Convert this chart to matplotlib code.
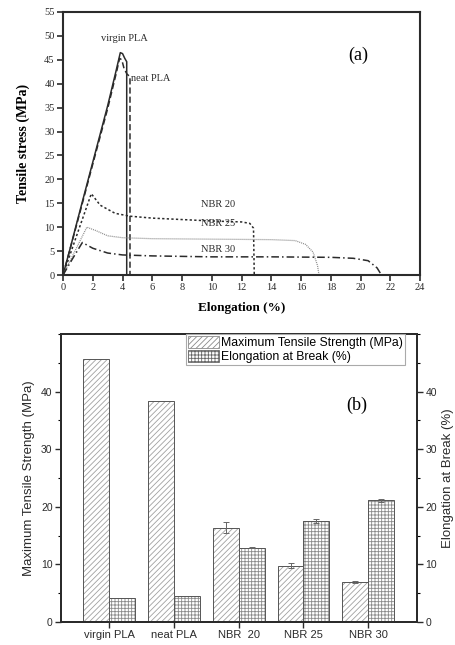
import matplotlib

matplotlib.use("Agg")

import matplotlib.pyplot as plt
import numpy as np
from matplotlib.patches import Patch
from matplotlib.ticker import MultipleLocator

# (a) stress-strain curves
virgin_x = [0, 0.5, 1.0, 2.0, 3.0, 3.55, 3.85, 4.0, 4.15, 4.28, 4.28]
virgin_y = [0, 5.8, 11.8, 23.6, 35.4, 42.5, 46.5, 46.3, 45.3, 44.6, 0]
neat_x = [0, 1.0, 2.0, 3.0, 3.6, 3.8, 3.95, 4.1, 4.3, 4.5, 4.5]
neat_y = [0, 11.5, 23.2, 34.8, 42.5, 45.3, 45.0, 43.2, 42.0, 41.5, 0]
nbr20_x = [0, 1.0, 1.9, 2.5, 3.5, 4.5, 6, 8, 10, 12, 12.55, 12.8, 12.85]
nbr20_y = [0, 9.0, 17.0, 14.6, 12.9, 12.3, 11.9, 11.6, 11.3, 11.1, 10.8, 9.8, 0]
nbr25_x = [0, 0.8, 1.6, 2.2, 3.0, 4.0, 6, 10, 14, 15.6, 16.3, 16.8, 17.1, 17.2]
nbr25_y = [0, 5.0, 10.0, 9.3, 8.2, 7.8, 7.6, 7.5, 7.4, 7.2, 6.4, 4.8, 2.0, 0]
nbr30_x = [0, 0.6, 1.3, 2.0, 3.0, 4.0, 6, 10, 14, 18, 19.5, 20.5, 21.1, 21.4]
nbr30_y = [0, 3.2, 6.8, 5.6, 4.6, 4.2, 4.0, 3.8, 3.8, 3.7, 3.5, 3.0, 1.5, 0]

# (b) bar chart values
samples = ["virgin PLA", "neat PLA", "NBR  20", "NBR 25", "NBR 30"]
strength = [45.7, 38.3, 16.4, 9.8, 6.9]
strength_err = [0, 0, 0.9, 0.4, 0.2]
elongation = [4.2, 4.45, 12.9, 17.5, 21.1]
elongation_err = [0, 0, 0.1, 0.3, 0.2]

serif = "Liberation Serif"
sans = "Liberation Sans"
ink = "#2b2b2b"

fig = plt.figure(figsize=(4.55, 6.45), dpi=100)

# ---- panel (a)
ax = fig.add_axes([0.1385, 0.5736, 0.785, 0.4078])
ax.plot(virgin_x, virgin_y, color=ink, lw=1.1, ls="-")
ax.plot(neat_x, neat_y, color=ink, lw=1.1, ls=(0, (4, 2)))
ax.plot(nbr20_x, nbr20_y, color=ink, lw=1.1, ls=(0, (1.5, 1.5)))
ax.plot(nbr25_x, nbr25_y, color="#8a8a8a", lw=0.9, ls=(0, (0.8, 0.8)))
ax.plot(nbr30_x, nbr30_y, color=ink, lw=1.1, ls=(0, (5, 2, 1, 2)))

ax.text(4.1, 48.5, "virgin PLA", family=serif, fontsize=7.5, color=ink, ha="center", va="bottom")
ax.text(4.6, 41.0, "neat PLA", family=serif, fontsize=7.5, color=ink, ha="left", va="center")
ax.text(10.4, 14.7, "NBR 20", family=serif, fontsize=7.5, color=ink, ha="center", va="center")
ax.text(10.4, 10.7, "NBR 25", family=serif, fontsize=7.5, color=ink, ha="center", va="center")
ax.text(10.4, 5.3, "NBR 30", family=serif, fontsize=7.5, color=ink, ha="center", va="center")
ax.text(0.826, 0.837, "(a)", transform=ax.transAxes, family=serif, fontsize=13, ha="center", va="center")

ax.set_xlim(0, 24)
ax.set_ylim(0, 55)
ax.xaxis.set_major_locator(MultipleLocator(2))
ax.yaxis.set_major_locator(MultipleLocator(5))
ax.tick_params(direction="out", length=4, width=1.2, labelsize=7.5, colors=ink, pad=2)
ax.tick_params(top=False, right=False)
for label in ax.get_xticklabels() + ax.get_yticklabels():
    label.set_family(serif)
for spine in ax.spines.values():
    spine.set_linewidth(1.5)
    spine.set_color(ink)
ax.set_xlabel("Elongation (%)", family=serif, fontsize=9.5, fontweight="bold", labelpad=7)
ax.set_ylabel("Tensile stress (MPa)", family=serif, fontsize=10, fontweight="bold", labelpad=10)

# ---- panel (b)
plt.rcParams["hatch.linewidth"] = 0.6
bx = fig.add_axes([0.134, 0.0357, 0.7824, 0.4465])
bx2 = bx.twinx()
pos = np.arange(len(samples))
w = 0.4


def draw_errors(a, x, y, err):
    keep = [i for i, e in enumerate(err) if e > 0]
    a.errorbar(x[keep], np.asarray(y)[keep], yerr=np.asarray(err)[keep], fmt="none",
               ecolor="#666666", elinewidth=0.7, capsize=2, capthick=0.7)


bx.bar(pos - w / 2, strength, w, color="white", edgecolor="#a0a0a0", hatch="//////", lw=0)
bx.bar(pos - w / 2, strength, w, color="none", edgecolor="#555555", lw=0.7)
draw_errors(bx, pos - w / 2, strength, strength_err)
bx2.bar(pos + w / 2, elongation, w, color="white", edgecolor="#8a8a8a", hatch="+++++", lw=0)
bx2.bar(pos + w / 2, elongation, w, color="none", edgecolor="#555555", lw=0.7)
draw_errors(bx2, pos + w / 2, elongation, elongation_err)

for a in (bx, bx2):
    a.set_ylim(0, 50)
    a.set_xlim(-0.74, 4.75)
    a.yaxis.set_major_locator(MultipleLocator(10))
    a.yaxis.set_minor_locator(MultipleLocator(5))
    a.tick_params(direction="out", length=4, width=1.0, labelsize=7.5, colors=ink, pad=2)
    a.tick_params(which="minor", direction="out", length=2.5, width=0.8)
    for spine in a.spines.values():
        spine.set_linewidth(1.4)
        spine.set_color(ink)
bx.set_yticks([0, 10, 20, 30, 40])
bx2.set_yticks([0, 10, 20, 30, 40])
bx.set_xticks(pos)
bx.set_xticklabels(samples, family=sans, fontsize=8)
for label in bx.get_yticklabels() + bx2.get_yticklabels():
    label.set_family(sans)
bx.set_ylabel("Maximum Tensile Strength (MPa)", family=sans, fontsize=9.5, color=ink, labelpad=4)
bx2.set_ylabel("Elongation at Break (%)", family=sans, fontsize=9.5, color=ink, labelpad=4)
bx.text(0.83, 0.753, "(b)", transform=bx.transAxes, family=serif, fontsize=13, ha="center", va="center")

handles = [
    Patch(facecolor="white", edgecolor="#8a8a8a", hatch="//////", lw=0.6),
    Patch(facecolor="white", edgecolor="#666666", hatch="+++++", lw=0.6),
]
leg = bx2.legend(
    handles,
    ["Maximum Tensile Strength (MPa)", "Elongation at Break (%)"],
    loc="upper right",
    bbox_to_anchor=(0.966, 1.0),
    borderaxespad=0,
    fancybox=False,
    framealpha=1,
    edgecolor="#aaaaaa",
    prop={"family": sans, "size": 8.8},
    handlelength=2.5,
    handleheight=1.1,
    handletextpad=0.2,
    borderpad=0.15,
    labelspacing=0.1,
)
leg.get_frame().set_linewidth(0.8)

fig.savefig("out.png", dpi=100)
